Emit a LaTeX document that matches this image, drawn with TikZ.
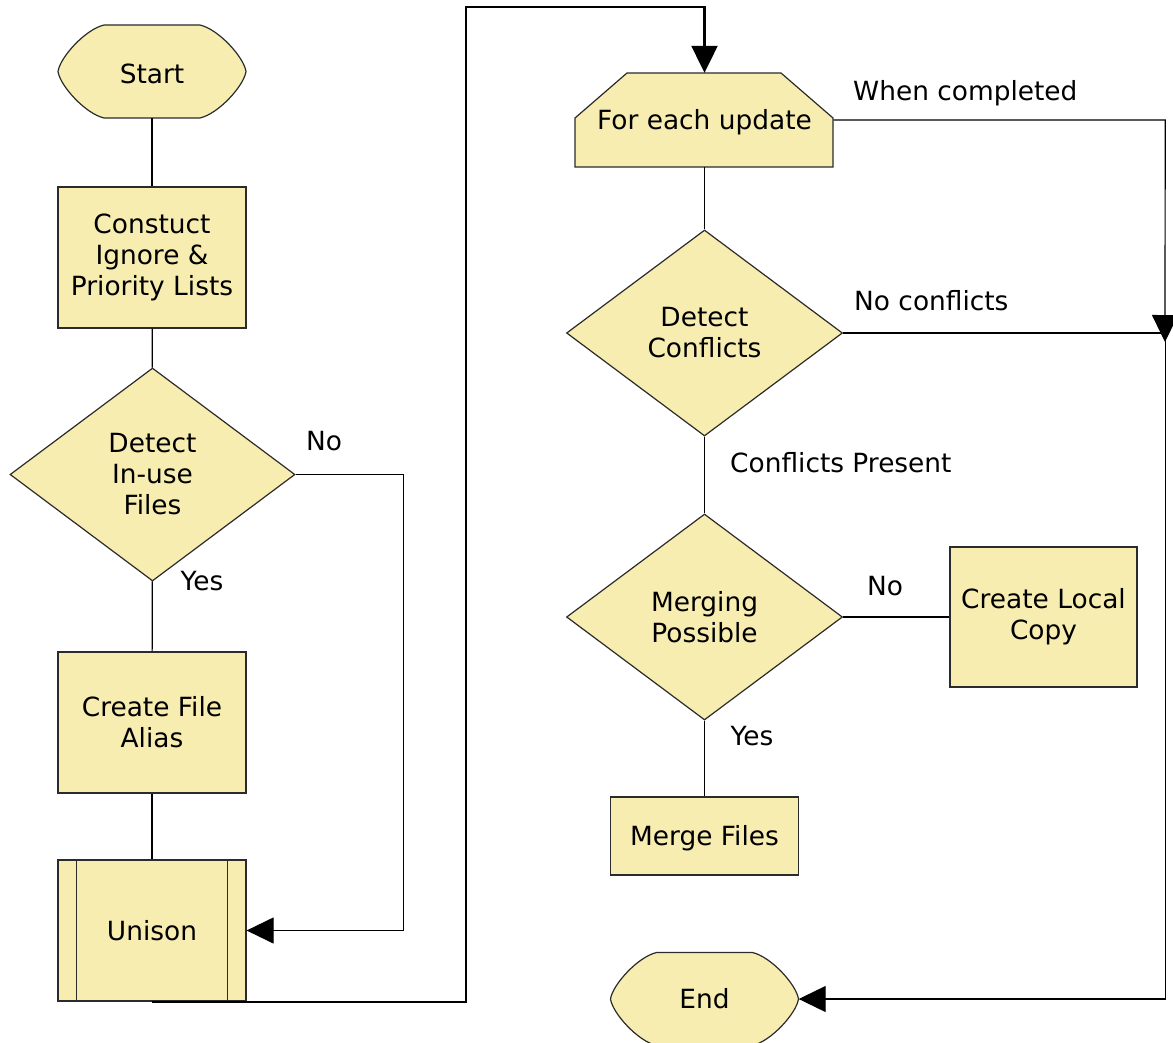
\documentclass[tikz,border=0pt]{standalone}
\usepackage{fontspec}
\setmainfont{DejaVu Sans}
\usetikzlibrary{shapes.geometric,arrows.meta,calc}
\definecolor{boxfill}{HTML}{F7EDB0}
\definecolor{boxline}{HTML}{2B2B2B}
\tikzset{
  txt/.style={font=\fontsize{26.4}{31}\selectfont, align=center, inner sep=0pt},
  oneline/.style={text height=23.5pt},
  shapebd/.style={draw=boxline, fill=boxfill, line width=1.2pt},
  procbox/.style={txt, shapebd, rectangle, minimum width=188pt, minimum height=141pt},
  decbox/.style={txt, shapebd, diamond, minimum width=276pt, minimum height=206pt},
  holder/.style={txt, rectangle, draw=none},
  conn/.style={line width=1.2pt, draw=black},
  arr/.style={conn, -{Triangle[length=27pt,width=26pt]}},
  lbl/.style={font=\fontsize{26.4}{31}\selectfont, inner sep=0pt, text height=24.5pt, text depth=5pt}
}
\newcommand{\termshape}[2]{%
  \filldraw[shapebd] (#1-94,#2) .. controls (#1-92,#2-14) and (#1-67,#2-42) .. (#1-48,#2-46.5)
    -- (#1+48,#2-46.5) .. controls (#1+67,#2-42) and (#1+92,#2-14) .. (#1+94,#2)
    .. controls (#1+92,#2+14) and (#1+67,#2+42) .. (#1+48,#2+46.5)
    -- (#1-48,#2+46.5) .. controls (#1-67,#2+42) and (#1-92,#2+14) .. (#1-94,#2) -- cycle;}
\begin{document}
\begin{tikzpicture}[x=1pt,y=-1pt]
\useasboundingbox (0,0) rectangle (1173,1042);
\fill[white] (0,0) rectangle (1173,1042);

% left column
\termshape{152}{71.5}
\node[holder, oneline, minimum width=188pt, minimum height=93pt] (start) at (152,71.5) {Start};
\node[procbox] (construct) at (152,257.5) {Constuct\\Ignore \&\\Priority Lists};
\node[decbox, minimum width=285pt, minimum height=213pt] (dec1) at (152.5,474.5) {Detect\\In-use\\Files};
\node[procbox] (alias) at (152,722.5) {Create File\\Alias};
\node[procbox] (unison) at (152,930.5) {Unison};
\draw[boxline, line width=1.2pt] ($(unison.north west)+(19,0)$) -- ($(unison.south west)+(19,0)$);
\draw[boxline, line width=1.2pt] ($(unison.north east)+(-19,0)$) -- ($(unison.south east)+(-19,0)$);

% right column
\filldraw[shapebd] (575,118) -- (627,73) -- (781,73) -- (833,118) -- (833,167) -- (575,167) -- cycle;
\node[holder, oneline, minimum width=258pt, minimum height=94pt] (foreach) at (704.5,120) {For each update};
\node[decbox] (dec2) at (704.5,333) {Detect\\Conflicts};
\node[decbox] (merging) at (704.5,617) {Merging\\Possible};
\node[procbox, minimum width=187pt, minimum height=140pt] (localcopy) at (1043.5,617) {Create Local\\Copy};
\node[procbox, oneline, minimum width=188pt, minimum height=78pt] (merge) at (704.5,836) {Merge Files};
\termshape{704.5}{999}
\node[holder, minimum width=188pt, minimum height=93pt] (end) at (704.5,999) {End};

% connectors
\draw[conn] (start) -- (construct.north);
\draw[conn] (construct) -- (dec1);
\draw[conn] (dec1) -- (alias);
\draw[conn] (alias) -- (unison);
\draw[arr] (dec1.east) -- ++(108,0) |- (unison.east);
\draw[line width=2.2pt, -{Triangle[length=27pt,width=26pt]}] (unison.south) -| (466,7) -| (foreach.north);
\draw[conn] (foreach) -- (dec2);
\draw[conn] (dec2) -- (merging);
\draw[conn] (merging) -- (localcopy);
\draw[conn] (merging) -- (merge);
\draw[arr] (foreach.east) -- ++(331.5,0) -- (1165,342);
\draw[arr] (dec2.east) -- ++(322,0) |- (end.east);

% labels
\node[lbl] (lno1) at (324,441) {No};
\node[lbl] (lyes1) at (202,581) {Yes};
\node[lbl, anchor=west] (lwhen) at (853,91) {When completed};
\node[lbl, anchor=west] (lnoconf) at (854,301) {No conflicts};
\node[lbl, anchor=west] (lconf) at (730,463) {Conflicts Present};
\node[lbl] (lno2) at (885,586) {No};
\node[lbl] (lyes2) at (752,736) {Yes};
\end{tikzpicture}
\end{document}
